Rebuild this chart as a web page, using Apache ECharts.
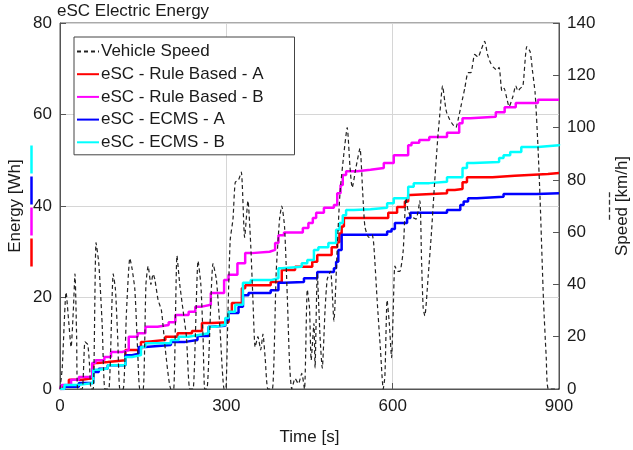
<!DOCTYPE html>
<html>
<head>
<meta charset="utf-8">
<script src="https://cdn.jsdelivr.net/npm/echarts@6/dist/echarts.min.js"></script>
<style>
  html, body { margin: 0; padding: 0; background: #fff; }
  #chart { width: 633px; height: 450px; }
</style>
</head>
<body>
<div id="chart"></div>
<script>
// 车速 (km/h)
const speedTime = [
  0, 4, 11, 16, 20, 24, 27, 30, 32, 40,
  45, 50, 53, 56, 60, 65, 70, 76, 81, 88,
  96, 100, 104, 108, 114, 120, 126, 130, 135, 140,
  144, 150, 155, 159, 164, 168, 171, 177, 183, 190,
  200, 205, 211, 216, 222, 228, 234, 240, 249, 254,
  258, 261, 265, 276, 282, 288, 296, 299, 303, 307,
  312, 316, 322, 327, 333, 339, 344, 348, 352, 357,
  362, 366, 370, 375, 383, 390, 396, 400, 405, 410,
  414, 418, 424, 430, 436, 441, 446, 450, 453, 458,
  460, 464, 469, 473, 478, 482, 488, 494, 500, 505,
  512, 518, 523, 527, 534, 541, 546, 550, 557, 563,
  566, 572, 578, 583, 586, 590, 594, 598, 601, 604,
  609, 613, 619, 624, 628, 633, 642, 649, 652, 655,
  658, 664, 670, 676, 681, 685, 690, 694, 697, 703,
  709, 714, 719, 724, 730, 736, 741, 748, 754, 760,
  766, 771, 776, 782, 788, 792, 797, 801, 806, 810,
  817, 822, 826, 830, 835, 842, 848, 852, 857, 862,
  866, 872, 877, 881, 900
]
const speedKmh = [
  0, 8, 37, 25, 16, 30, 44, 20, 0, 0,
  18, 17, 10, 0, 0, 56, 48, 25, 0, 0,
  44, 38, 20, 0, 0, 30, 50, 46, 38, 15,
  0, 0, 40, 47, 40, 44, 42, 34, 30, 15,
  0, 0, 51, 40, 30, 20, 0, 0, 49, 40,
  20, 0, 0, 48, 42, 25, 0, 0, 30, 57,
  65, 79, 80, 83, 58, 72, 55, 34, 16, 20,
  15, 21, 12, 0, 0, 45, 65, 70, 62, 35,
  10, 0, 4, 2, 6, 0, 38, 31, 11, 25,
  8, 44, 20, 8, 30, 42, 45, 26, 54, 75,
  90, 100, 85, 77, 85, 92, 75, 62, 58, 59,
  55, 34, 15, 0, 5, 34, 25, 12, 30, 47,
  45, 45, 53, 73, 68, 66, 65, 72, 50, 31,
  28, 43, 60, 80, 95, 105, 116, 110, 106, 103,
  101, 100, 104, 109, 115, 121, 121, 128, 127, 130,
  133, 128, 125, 123, 122, 123, 114, 115, 111, 108,
  112, 116, 114, 115, 116, 131, 129, 122, 113, 93,
  72, 34, 12, 0, 0
]

// Rule Based - A (Wh), value holds from each time on
const rbaTime = [0, 4, 16, 40, 60, 68, 86, 118, 146, 154, 190, 212, 238, 256, 274, 304, 310, 328, 334, 380, 400, 424, 455, 464, 490, 500, 504, 508, 512, 592, 608, 622, 628, 632, 698, 712, 726, 734, 780, 820, 880, 900]
const rbaEnergy = [0, 0.5, 2, 2.4, 5.7, 5.9, 6.3, 8.5, 10.3, 10.7, 11.4, 12.2, 12.7, 14.4, 14.6, 16.9, 18.8, 22, 22.7, 23.4, 26, 26.7, 27.8, 29.3, 31, 32.1, 34, 35.5, 37.4, 38.5, 39.8, 41, 42.4, 42.8, 43.5, 43.7, 45.2, 46.3, 46.6, 47, 47.2, 47.3]

// Rule Based - B
const rbbTime = [0, 3, 20, 34, 58, 64, 80, 92, 112, 124, 140, 154, 176, 196, 208, 232, 244, 256, 272, 296, 304, 320, 334, 346, 378, 388, 394, 404, 438, 448, 456, 462, 476, 494, 500, 506, 510, 516, 536, 560, 584, 602, 628, 634, 648, 666, 698, 720, 726, 740, 786, 802, 822, 862, 900]
const rbbEnergy = [0, 0.9, 2, 2.6, 5.7, 6.3, 7, 8.1, 8.5, 11.4, 12.2, 13.6, 14, 14.6, 16.2, 16.9, 18, 18.4, 21, 23.8, 25, 27.5, 29.7, 30, 30.4, 31.9, 33.6, 34.2, 35.2, 36.3, 37.4, 38.5, 39.6, 40.2, 42.8, 44.6, 46.8, 47.6, 47.9, 48.3, 49.4, 51.1, 53.3, 53.8, 54.4, 55.1, 56, 58.1, 59.2, 59.5, 60.5, 61.6, 62.5, 63.2, 63.2]

// ECMS - A
const ecaTime = [0, 8, 34, 60, 70, 86, 118, 130, 142, 154, 200, 226, 248, 268, 274, 298, 304, 322, 330, 340, 380, 394, 404, 440, 464, 494, 498, 502, 508, 590, 598, 604, 626, 632, 698, 722, 728, 736, 752, 800, 860, 900]
const ecaEnergy = [0, 0.5, 1.3, 3.7, 4.4, 5.2, 7.4, 7.7, 9.2, 9.6, 10.3, 10.7, 11.6, 13.6, 13.8, 15.1, 16.6, 18, 20.5, 21, 21.6, 23.2, 23.4, 24.2, 25.6, 26.4, 27.8, 30.4, 33.7, 34.4, 35, 36.3, 37.4, 38.5, 39.1, 40.2, 41, 41.7, 42, 42.6, 42.8, 42.9]

// ECMS - B
const ecbTime = [0, 8, 34, 60, 70, 86, 118, 130, 146, 154, 200, 214, 232, 250, 268, 280, 298, 304, 316, 330, 344, 380, 394, 400, 436, 446, 458, 466, 484, 498, 504, 510, 516, 530, 560, 590, 602, 628, 638, 666, 698, 726, 734, 746, 792, 800, 812, 832, 862, 900]
const ecbEnergy = [0, 0.9, 1.3, 4.2, 4.5, 5.2, 7, 7.4, 9.2, 10, 10.7, 11.4, 11.8, 12.2, 13.6, 14, 15.5, 16.9, 18.4, 23.2, 23.8, 24.2, 26.4, 26.7, 27.5, 28.2, 30.4, 31, 31.9, 34.8, 36.3, 38, 39.1, 39.3, 39.6, 40.6, 41.7, 44.2, 45, 45.3, 46.3, 48.3, 49.4, 49.6, 50.5, 51.1, 51.8, 52.9, 53.3, 53.5]

const timeTicks = [0, 300, 600, 900]

const pairs = (xs, ys) => xs.map((x, i) => [x, ys[i]])

const FONT = 'Liberation Sans, Arial, Helvetica, sans-serif'
const AXIS_COLOR = '#555'
const TEXT_COLOR = '#1a1a1a'

const energySeries = (name, color, xs, ys) => ({
  name,
  type: 'line',
  step: 'end',
  symbol: 'none',
  data: pairs(xs, ys),
  itemStyle: { color },
  lineStyle: { color, width: 2.5 }
})

const chart = echarts.init(document.getElementById('chart'))
chart.setOption({
  animation: false,
  textStyle: { fontFamily: FONT },
  title: {
    text: 'eSC Electric Energy',
    left: 57,
    top: 3,
    padding: 0,
    textStyle: { fontSize: 17, fontWeight: 'normal', color: TEXT_COLOR, fontFamily: FONT }
  },
  legend: {
    orient: 'vertical',
    left: 74,
    top: 37,
    data: ['Vehicle Speed', 'eSC - Rule Based - A', 'eSC - Rule Based - B', 'eSC - ECMS - A', 'eSC - ECMS - B'],
    itemWidth: 22,
    itemHeight: 17,
    itemGap: 5.7,
    padding: [6, 31, 4, 2],
    backgroundColor: '#fff',
    borderColor: '#444',
    borderWidth: 1,
    borderRadius: 0,
    // 图例只画线段，不要圆点
    itemStyle: { color: 'transparent', borderWidth: 0 },
    textStyle: { fontSize: 17, color: TEXT_COLOR, fontFamily: FONT, padding: [0, 0, 0, -3] }
  },
  grid: {
    left: 60,
    right: 74,
    top: 23,
    bottom: 61,
    outerBoundsMode: 'none',
    show: true,
    borderColor: AXIS_COLOR,
    borderWidth: 1,
    backgroundColor: '#fff'
  },
  xAxis: {
    type: 'value',
    min: 0,
    max: 900,
    interval: 300,
    name: 'Time [s]',
    nameLocation: 'middle',
    nameGap: 40,
    nameMoveOverlap: false,
    nameTextStyle: { fontSize: 17, color: TEXT_COLOR, fontFamily: FONT },
    axisLine: { lineStyle: { color: AXIS_COLOR } },
    axisTick: { inside: true, length: 6, lineStyle: { color: AXIS_COLOR } },
    axisLabel: {
      fontSize: 17,
      color: TEXT_COLOR,
      margin: 9,
      customValues: timeTicks
    },
    splitLine: { show: true, lineStyle: { color: '#d6d6d6' } }
  },
  yAxis: [
    {
      type: 'value',
      min: 0,
      max: 80,
      interval: 20,
      name: '{t|Energy [Wh]}\n{r|}{g|}{m|}{g|}{b|}{g|}{c|}',
      nameLocation: 'middle',
      nameRotate: 90,
      nameGap: 21,
      nameMoveOverlap: false,
      nameTextStyle: {
        fontFamily: FONT,
        rich: {
          t: { fontSize: 17, color: TEXT_COLOR, lineHeight: 17, fontFamily: FONT },
          r: { width: 28, height: 2.5, lineHeight: 15, backgroundColor: '#ff0000' },
          m: { width: 28, height: 2.5, lineHeight: 15, backgroundColor: '#ff00ff' },
          b: { width: 28, height: 2.5, lineHeight: 15, backgroundColor: '#0000ff' },
          c: { width: 28, height: 2.5, lineHeight: 15, backgroundColor: '#00ffff' },
          g: { width: 3, height: 2.5, lineHeight: 15 }
        }
      },
      axisLine: { show: true, lineStyle: { color: AXIS_COLOR } },
      axisTick: { show: true, inside: true, length: 6, lineStyle: { color: AXIS_COLOR } },
      axisLabel: { fontSize: 17, color: TEXT_COLOR, margin: 8 },
      splitLine: { show: true, lineStyle: { color: '#d6d6d6' } }
    },
    {
      type: 'value',
      min: 0,
      max: 140,
      interval: 20,
      position: 'right',
      name: '{k|}{s|}{k|}{s|}{k|}{s|}{k|}\n{t|Speed [km/h]}',
      nameLocation: 'middle',
      nameRotate: 90,
      nameGap: 46,
      nameMoveOverlap: false,
      nameTextStyle: {
        fontFamily: FONT,
        rich: {
          t: { fontSize: 17, color: TEXT_COLOR, lineHeight: 17, fontFamily: FONT },
          k: { width: 5, height: 1.3, lineHeight: 9, backgroundColor: '#333' },
          s: { width: 2.5, height: 1.3, lineHeight: 9 }
        }
      },
      axisLine: { show: true, lineStyle: { color: AXIS_COLOR } },
      axisTick: { show: true, inside: true, length: 6, lineStyle: { color: AXIS_COLOR } },
      axisLabel: { fontSize: 17, color: TEXT_COLOR, margin: 8 },
      splitLine: { show: false }
    }
  ],
  series: [
    energySeries('eSC - Rule Based - A', '#ff0000', rbaTime, rbaEnergy),
    energySeries('eSC - Rule Based - B', '#ff00ff', rbbTime, rbbEnergy),
    energySeries('eSC - ECMS - A', '#0000ff', ecaTime, ecaEnergy),
    energySeries('eSC - ECMS - B', '#00ffff', ecbTime, ecbEnergy),
    {
      name: 'Vehicle Speed',
      type: 'line',
      yAxisIndex: 1,
      symbol: 'none',
      smooth: 0.2,
      data: pairs(speedTime, speedKmh),
      itemStyle: { color: '#222' },
      lineStyle: { color: '#222', width: 1.2, type: [4, 3] }
    }
  ]
})
</script>
</body>
</html>
